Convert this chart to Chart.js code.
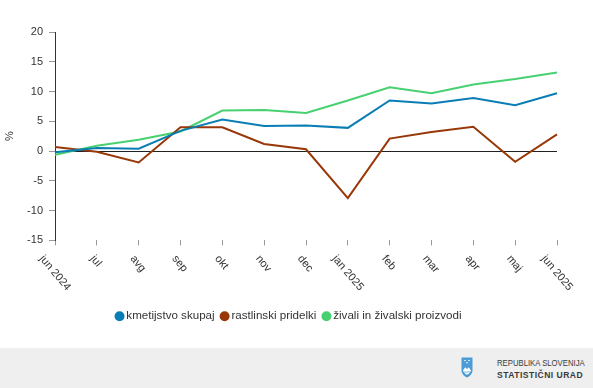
<!DOCTYPE html>
<html>
<head>
<meta charset="utf-8">
<script src="https://cdn.jsdelivr.net/npm/chart.js@4.4.1/dist/chart.umd.min.js"></script>
<style>
  html, body { margin: 0; padding: 0; background: #fff; }
  #wrap { position: relative; width: 593px; height: 388px; overflow: hidden; }
  #chartBox { position: absolute; left: 0; top: 0; width: 593px; height: 348px; }
  #footer { position: absolute; left: 0; top: 348px; width: 593px; height: 40px; background: #efefef; }
  #logo { position: absolute; left: 461px; top: 9px; }
  #ftext { position: absolute; left: 497px; top: 10px; font-family: "Liberation Sans", Arial, sans-serif; color: #3a3a3a; white-space: nowrap; }
  #ftext .l1 { font-size: 8.5px; line-height: 11px; transform: scaleX(0.91); transform-origin: 0 50%; }
  #ftext .l2 { font-size: 9px; font-weight: bold; letter-spacing: 0.5px; line-height: 12px; transform: scaleX(0.95); transform-origin: 0 50%; }
</style>
</head>
<body>
<div id="wrap">
  <div id="chartBox"><canvas id="c" width="593" height="348"></canvas></div>
  <div id="footer">
    <svg id="logo" width="12" height="21" viewBox="0 0 12 21">
      <path d="M0.5 0.5 H11.5 V13 C11.5 17 8.5 19.5 6 20.5 C3.5 19.5 0.5 17 0.5 13 Z" fill="#4a9bd6"/>
      <path d="M2 13.5 L4.2 10.2 L6 12 L7.8 10.2 L10 13.5 C9 16 7.5 17.2 6 17.6 C4.5 17.2 3 16 2 13.5 Z" fill="#ffffff"/>
      <path d="M2.6 15.3 C4 14.6 5 15.6 6 15.2 C7 14.8 8 14.6 9.4 15.3" stroke="#4a9bd6" stroke-width="0.8" fill="none"/>
      <circle cx="4" cy="3.5" r="0.8" fill="#fff"/><circle cx="8" cy="3.5" r="0.8" fill="#fff"/><circle cx="6" cy="5.8" r="0.8" fill="#fff"/>
    </svg>
    <div id="ftext"><div class="l1">REPUBLIKA SLOVENIJA</div><div class="l2">STATISTIČNI URAD</div></div>
  </div>
</div>
<script>
const categories = ["jun 2024", "jul", "avg", "sep", "okt", "nov", "dec", "jan 2025", "feb", "mar", "apr", "maj", "jun 2025"];
const kmetijstvoSkupaj = [-0.2, 0.5, 0.4, 3.4, 5.3, 4.2, 4.3, 3.9, 8.5, 8.0, 8.9, 7.7, 9.7];
const rastlinskiPridelki = [0.7, -0.1, -1.9, 4.0, 4.0, 1.2, 0.3, -7.9, 2.1, 3.2, 4.1, -1.8, 2.8];
const zivaliProizvodi = [-0.6, 0.9, 1.9, 3.3, 6.8, 6.9, 6.4, 8.5, 10.7, 9.7, 11.2, 12.1, 13.2];
const seriesNames = ["kmetijstvo skupaj", "rastlinski pridelki", "živali in živalski proizvodi"];
const yTicks = [-15, -10, -5, 0, 5, 10, 15, 20];
const yTitle = "%";

const FONT = '"Liberation Sans", Arial, sans-serif';
const TEXT = '#333333';

const rotatedXLabels = {
  id: 'rotatedXLabels',
  afterDraw(chart) {
    const ctx = chart.ctx;
    const xs = chart.scales.x;
    const area = chart.chartArea;
    ctx.save();
    ctx.font = '11px ' + FONT;
    ctx.fillStyle = TEXT;
    ctx.textAlign = 'left';
    ctx.textBaseline = 'middle';
    const ang = 50 * Math.PI / 180;
    categories.forEach((lab, i) => {
      const px = xs.getPixelForValue(i);
      const w = ctx.measureText(lab).width;
      const sx = px - 1.3 - 0.29 * w;
      const sy = area.bottom + 16.5;
      ctx.save();
      ctx.translate(sx, sy);
      ctx.rotate(ang);
      ctx.fillText(lab, 0, 0);
      ctx.restore();
    });
    ctx.restore();
  }
};

new Chart(document.getElementById('c'), {
  type: 'line',
  data: {
    labels: categories,
    datasets: [
      { label: seriesNames[0], data: kmetijstvoSkupaj, borderColor: '#0a7db5', backgroundColor: '#0a7db5' },
      { label: seriesNames[1], data: rastlinskiPridelki, borderColor: '#983808', backgroundColor: '#983808' },
      { label: seriesNames[2], data: zivaliProizvodi, borderColor: '#47d170', backgroundColor: '#47d170' }
    ].map(d => Object.assign(d, { borderWidth: 2, pointRadius: 0, pointHoverRadius: 0, tension: 0, fill: false }))
  },
  options: {
    responsive: false,
    animation: false,
    devicePixelRatio: 1,
    layout: { padding: { top: 32, right: 13, bottom: 16, left: 0 } },
    plugins: {
      tooltip: { enabled: false },
      legend: {
        position: 'bottom',
        labels: {
          usePointStyle: true,
          pointStyle: 'circle',
          boxWidth: 2,
          boxHeight: 5.66,
          padding: 9,
          color: TEXT,
          font: { family: FONT, size: 11.6 }
        }
      }
    },
    scales: {
      x: {
        type: 'category',
        offset: false,
        ticks: { display: false },
        grid: { drawOnChartArea: false, drawTicks: true, tickLength: 5, tickColor: '#999999' },
        border: { display: false },
        afterFit(s) { s.height = 61; }
      },
      y: {
        min: -15,
        max: 20,
        afterBuildTicks(s) { s.ticks = yTicks.map(v => ({ value: v })); },
        ticks: { color: TEXT, font: { family: FONT, size: 11 }, padding: 6 },
        grid: {
          drawOnChartArea: true,
          drawTicks: true,
          tickLength: 6,
          tickColor: '#999999',
          color: (c) => (c.tick && c.tick.value === 0) ? '#222222' : 'rgba(0,0,0,0)',
          lineWidth: 1
        },
        border: { display: true, color: '#333333', width: 1 },
        title: { display: true, text: yTitle, color: TEXT, font: { family: FONT, size: 11 }, padding: { top: 3, bottom: 0 } },
        afterFit(s) { s.width = 55; }
      },
      spacer: {
        position: 'right',
        display: true,
        min: 0,
        max: 1,
        ticks: { display: false },
        grid: { display: false },
        border: { display: false },
        afterFit(s) { s.width = 23; }
      }
    }
  },
  plugins: [rotatedXLabels]
});
</script>
</body>
</html>
